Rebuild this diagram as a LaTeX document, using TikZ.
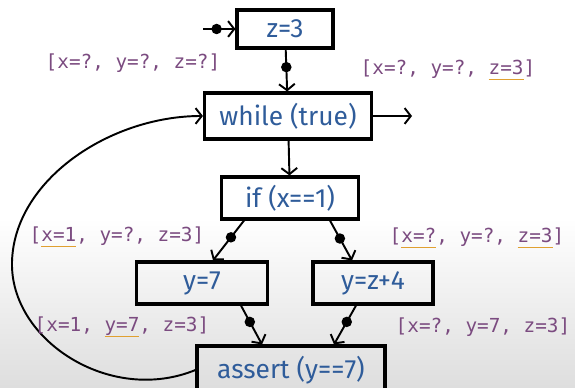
\documentclass[tikz,border=0pt]{standalone}
\usepackage{fontspec}
\setmainfont{Fira Sans}
\newfontfamily\labelfont{DejaVu Sans Mono}
\usetikzlibrary{positioning,arrows.meta,calc}
\definecolor{codeblue}{HTML}{2F5C9A}
\definecolor{statepurple}{HTML}{7B4B80}
\definecolor{ulorange}{HTML}{E0A030}
\newcommand\ulined[1]{\begingroup\setbox0\hbox{#1}\rlap{\color{ulorange}\rule[-3.5pt]{\wd0}{0.8pt}}\box0\endgroup}

\begin{document}
\begin{tikzpicture}[x=0.02cm, y=-0.02cm, line width=1.1pt,
  stmt/.style={draw, line width=1.8pt, text=codeblue, font=\fontsize{15}{17}\selectfont, inner sep=0pt},
  state/.style={text=statepurple, font=\labelfont\fontsize{11}{13}\selectfont},
  flow/.style={-{Straight Barb[length=3.5pt,width=9pt]}},
  dot/.style={circle, fill=black, inner sep=0pt, minimum size=0.21cm}]
\useasboundingbox (0,0) rectangle (575,388);
\shade[top color=white, bottom color=black!13] (0,218) rectangle (575,388);
% statements
\node[stmt, minimum width=1.92cm, minimum height=0.76cm] (zthree) at (285,29) {z=3};
\node[stmt, minimum width=3.34cm, minimum height=0.92cm] (loop) at (288,116) {while (true)};
\node[stmt, minimum width=2.74cm, minimum height=0.84cm] (ifbox) at (290,198) {if (x==1)};
\node[stmt, minimum width=2.62cm, minimum height=0.84cm] (ysev) at (202,283) {y=7};
\node[stmt, minimum width=2.40cm, minimum height=0.84cm] (yzfour) at (373,283) {y=z+4};
\node[stmt, minimum width=3.76cm, minimum height=0.96cm] (check) at (291,370) {assert (y==7)};
\coordinate (entry) at (203,29);
\coordinate (exit) at (412,116);
% edges
\draw[flow] (entry) -- node[dot, pos=0.42] {} (zthree);
\draw[flow] (zthree) -- node[dot, pos=0.42] {} (loop);
\draw[flow] (loop) -- (exit);
\draw[flow] (loop) -- (ifbox);
\draw[flow] ($(ifbox.south)+(-46,0)$) -- node[dot, pos=0.42] {} ($(ysev.north)+(11,0)$);
\draw[flow] ($(ifbox.south)+(40,0)$) -- node[dot, pos=0.45] {} ($(yzfour.north)+(-21,0)$);
\draw[flow] ($(ysev.south)+(39,0)$) -- node[dot, pos=0.42] {} ($(check.north)+(-29,0)$);
\draw[flow] ($(yzfour.south)+(-17,0)$) -- node[dot, pos=0.42] {} ($(check.north)+(43,0)$);
\draw[flow] (check.west) .. controls (110,405) and (10,340) .. (12,262) .. controls (14,180) and (110,116) .. (loop.west);
% abstract states
\node[state] (s1) at (133,63) {[x=?, y=?, z=?]};
\node[state] (s2) at (448,70) {[x=?, y=?, \ulined{z=3}]};
\node[state] (s3) at (117,237) {[\ulined{x=1}, y=?, z=3]};
\node[state] (s4) at (477,238) {[\ulined{x=?}, y=?, \ulined{z=3}]};
\node[state] (s5) at (122,327) {[x=1, \ulined{y=7}, z=3]};
\node[state] (s6) at (483,327) {[x=?, y=7, z=3]};
\end{tikzpicture}
\end{document}
